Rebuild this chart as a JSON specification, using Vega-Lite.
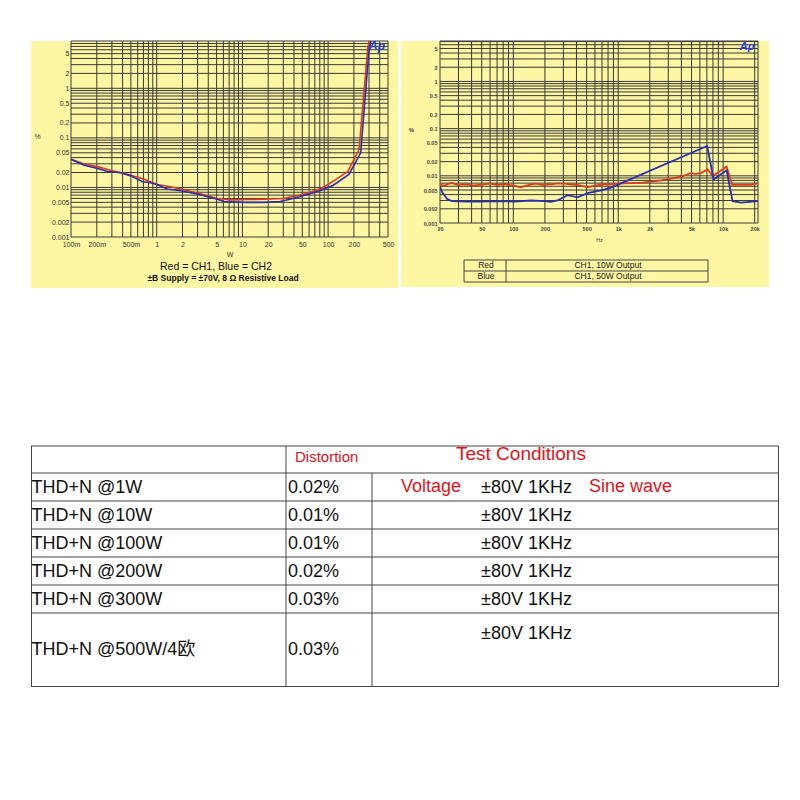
{
  "$schema": "https://vega.github.io/schema/vega-lite/v6.json",
  "background": "white",
  "padding": {"left": 30, "top": 40, "right": 0, "bottom": 0},
  "config": {"view": {"stroke": null}},
  "datasets": {
    "thd_vs_power": [
      {"ch": "CH1", "w": 0.1, "pct": 0.037}, {"ch": "CH1", "w": 0.149, "pct": 0.029}, {"ch": "CH1", "w": 0.204, "pct": 0.0263},
      {"ch": "CH1", "w": 0.292, "pct": 0.022}, {"ch": "CH1", "w": 0.381, "pct": 0.02}, {"ch": "CH1", "w": 0.5, "pct": 0.0176},
      {"ch": "CH1", "w": 0.711, "pct": 0.0147}, {"ch": "CH1", "w": 1.02, "pct": 0.0115}, {"ch": "CH1", "w": 1.45, "pct": 0.0103},
      {"ch": "CH1", "w": 2.08, "pct": 0.009}, {"ch": "CH1", "w": 2.97, "pct": 0.0077}, {"ch": "CH1", "w": 5.1, "pct": 0.006},
      {"ch": "CH1", "w": 7.27, "pct": 0.0056}, {"ch": "CH1", "w": 11.3, "pct": 0.0057}, {"ch": "CH1", "w": 17.7, "pct": 0.0058},
      {"ch": "CH1", "w": 30.2, "pct": 0.006}, {"ch": "CH1", "w": 43, "pct": 0.0068}, {"ch": "CH1", "w": 61, "pct": 0.0079},
      {"ch": "CH1", "w": 88, "pct": 0.01}, {"ch": "CH1", "w": 125, "pct": 0.0147}, {"ch": "CH1", "w": 170, "pct": 0.021},
      {"ch": "CH1", "w": 230, "pct": 0.058}, {"ch": "CH1", "w": 290, "pct": 6.5}, {"ch": "CH1", "w": 305, "pct": 9.5},
      {"ch": "CH2", "w": 0.1, "pct": 0.037}, {"ch": "CH2", "w": 0.143, "pct": 0.028}, {"ch": "CH2", "w": 0.204, "pct": 0.024},
      {"ch": "CH2", "w": 0.267, "pct": 0.0209}, {"ch": "CH2", "w": 0.38, "pct": 0.0198}, {"ch": "CH2", "w": 0.5, "pct": 0.0171},
      {"ch": "CH2", "w": 0.68, "pct": 0.013}, {"ch": "CH2", "w": 0.85, "pct": 0.0124}, {"ch": "CH2", "w": 1.0, "pct": 0.0115},
      {"ch": "CH2", "w": 1.33, "pct": 0.0093}, {"ch": "CH2", "w": 1.9, "pct": 0.0086}, {"ch": "CH2", "w": 2.97, "pct": 0.0074},
      {"ch": "CH2", "w": 5.1, "pct": 0.0058}, {"ch": "CH2", "w": 6.1, "pct": 0.0052}, {"ch": "CH2", "w": 10.4, "pct": 0.005},
      {"ch": "CH2", "w": 17.7, "pct": 0.005}, {"ch": "CH2", "w": 27.6, "pct": 0.0052}, {"ch": "CH2", "w": 39, "pct": 0.006},
      {"ch": "CH2", "w": 56, "pct": 0.0071}, {"ch": "CH2", "w": 80, "pct": 0.0086}, {"ch": "CH2", "w": 115, "pct": 0.0111},
      {"ch": "CH2", "w": 175, "pct": 0.0183}, {"ch": "CH2", "w": 240, "pct": 0.05}, {"ch": "CH2", "w": 300, "pct": 5.9},
      {"ch": "CH2", "w": 318, "pct": 9.5}
    ],
    "thd_vs_freq": [
      {"out": "10W", "hz": 20, "pct": 0.0068}, {"out": "10W", "hz": 21.5, "pct": 0.0061}, {"out": "10W", "hz": 23.5, "pct": 0.0066},
      {"out": "10W", "hz": 25.5, "pct": 0.0071}, {"out": "10W", "hz": 29.5, "pct": 0.0064}, {"out": "10W", "hz": 35, "pct": 0.0066},
      {"out": "10W", "hz": 42, "pct": 0.0063}, {"out": "10W", "hz": 50, "pct": 0.0065}, {"out": "10W", "hz": 60, "pct": 0.0068},
      {"out": "10W", "hz": 70, "pct": 0.0064}, {"out": "10W", "hz": 82, "pct": 0.0067}, {"out": "10W", "hz": 100, "pct": 0.0062},
      {"out": "10W", "hz": 118, "pct": 0.0057}, {"out": "10W", "hz": 135, "pct": 0.0063}, {"out": "10W", "hz": 160, "pct": 0.0068},
      {"out": "10W", "hz": 190, "pct": 0.0064}, {"out": "10W", "hz": 225, "pct": 0.0066}, {"out": "10W", "hz": 260, "pct": 0.0068},
      {"out": "10W", "hz": 306, "pct": 0.0068}, {"out": "10W", "hz": 350, "pct": 0.0066}, {"out": "10W", "hz": 410, "pct": 0.0064},
      {"out": "10W", "hz": 510, "pct": 0.0057}, {"out": "10W", "hz": 600, "pct": 0.0062}, {"out": "10W", "hz": 700, "pct": 0.0066},
      {"out": "10W", "hz": 850, "pct": 0.0066}, {"out": "10W", "hz": 1000, "pct": 0.0068}, {"out": "10W", "hz": 1300, "pct": 0.007},
      {"out": "10W", "hz": 1700, "pct": 0.0072}, {"out": "10W", "hz": 2050, "pct": 0.0075}, {"out": "10W", "hz": 2600, "pct": 0.008},
      {"out": "10W", "hz": 3300, "pct": 0.0088}, {"out": "10W", "hz": 4100, "pct": 0.0098}, {"out": "10W", "hz": 4900, "pct": 0.0114},
      {"out": "10W", "hz": 5500, "pct": 0.011}, {"out": "10W", "hz": 6150, "pct": 0.0114}, {"out": "10W", "hz": 7100, "pct": 0.0137},
      {"out": "10W", "hz": 7970, "pct": 0.0099}, {"out": "10W", "hz": 10800, "pct": 0.0156}, {"out": "10W", "hz": 12200, "pct": 0.0064},
      {"out": "10W", "hz": 15000, "pct": 0.0064}, {"out": "10W", "hz": 18300, "pct": 0.0064}, {"out": "10W", "hz": 21300, "pct": 0.0069},
      {"out": "50W", "hz": 20, "pct": 0.0058}, {"out": "50W", "hz": 21, "pct": 0.0045}, {"out": "50W", "hz": 23.5, "pct": 0.0032},
      {"out": "50W", "hz": 26, "pct": 0.0029}, {"out": "50W", "hz": 35, "pct": 0.00283}, {"out": "50W", "hz": 50, "pct": 0.00283},
      {"out": "50W", "hz": 70, "pct": 0.0029}, {"out": "50W", "hz": 101, "pct": 0.00285}, {"out": "50W", "hz": 148, "pct": 0.003},
      {"out": "50W", "hz": 196, "pct": 0.0029}, {"out": "50W", "hz": 227, "pct": 0.0028}, {"out": "50W", "hz": 264, "pct": 0.003},
      {"out": "50W", "hz": 329, "pct": 0.0039}, {"out": "50W", "hz": 410, "pct": 0.0035}, {"out": "50W", "hz": 510, "pct": 0.0043},
      {"out": "50W", "hz": 685, "pct": 0.0049}, {"out": "50W", "hz": 856, "pct": 0.0056}, {"out": "50W", "hz": 7050, "pct": 0.0428},
      {"out": "50W", "hz": 8120, "pct": 0.0084}, {"out": "50W", "hz": 10800, "pct": 0.0131}, {"out": "50W", "hz": 12300, "pct": 0.0029},
      {"out": "50W", "hz": 14900, "pct": 0.0027}, {"out": "50W", "hz": 18000, "pct": 0.0028}, {"out": "50W", "hz": 21500, "pct": 0.0029}
    ],
    "panel1": [{"x0": 0.0341, "x1": 654, "y0": 9, "y1": 0.0000936}],
    "panel2": [{"x0": 8.5, "x1": 27372, "y0": 7.2, "y1": 0.000044}],
    "notes1": [{"label": "Red = CH1,  Blue  = CH2", "x": 4.92, "y": 0.000248}],
    "notes1b": [{"label": "±B Supply = ±70V,  8 Ω Resistive Load", "x": 5.94, "y": 0.000149}],
    "logo1": [{"label": "Ap", "x": 372, "y": 7.13}],
    "logo2": [{"label": "Ap", "x": 16892, "y": 5.37}],
    "key2": [
      {"trace": "Red", "desc": "CH1, 10W Output", "xa": 54.9, "xb": 799, "y": 0.0001257},
      {"trace": "Blue", "desc": "CH1, 50W Output", "xa": 54.9, "xb": 799, "y": 0.0000735}
    ],
    "keybox2": [{"x0": 33.9, "x1": 7174, "xm": 85.2, "y0": 0.0001644, "y1": 0.0000562, "ym": 0.0000961}],
    "grid1x": [{"v":0.1},{"v":0.2},{"v":0.3},{"v":0.4},{"v":0.5},{"v":0.6},{"v":0.7},{"v":0.8},{"v":0.9},{"v":1},{"v":2},{"v":3},{"v":4},{"v":5},{"v":6},{"v":7},{"v":8},{"v":9},{"v":10},{"v":20},{"v":30},{"v":40},{"v":50},{"v":60},{"v":70},{"v":80},{"v":90},{"v":100},{"v":200},{"v":300},{"v":400},{"v":500}],
    "grid1y": [{"v":0.001},{"v":0.002},{"v":0.003},{"v":0.004},{"v":0.005},{"v":0.006},{"v":0.007},{"v":0.008},{"v":0.009},{"v":0.01},{"v":0.02},{"v":0.03},{"v":0.04},{"v":0.05},{"v":0.06},{"v":0.07},{"v":0.08},{"v":0.09},{"v":0.1},{"v":0.2},{"v":0.3},{"v":0.4},{"v":0.5},{"v":0.6},{"v":0.7},{"v":0.8},{"v":0.9},{"v":1},{"v":2},{"v":3},{"v":4},{"v":5},{"v":6},{"v":7},{"v":8},{"v":9}],
    "grid2x": [{"v":20},{"v":30},{"v":40},{"v":50},{"v":60},{"v":70},{"v":80},{"v":90},{"v":100},{"v":200},{"v":300},{"v":400},{"v":500},{"v":600},{"v":700},{"v":800},{"v":900},{"v":1000},{"v":2000},{"v":3000},{"v":4000},{"v":5000},{"v":6000},{"v":7000},{"v":8000},{"v":9000},{"v":10000},{"v":20000},{"v":21500}],
    "grid2y": [{"v":0.001},{"v":0.002},{"v":0.003},{"v":0.004},{"v":0.005},{"v":0.006},{"v":0.007},{"v":0.008},{"v":0.009},{"v":0.01},{"v":0.02},{"v":0.03},{"v":0.04},{"v":0.05},{"v":0.06},{"v":0.07},{"v":0.08},{"v":0.09},{"v":0.1},{"v":0.2},{"v":0.3},{"v":0.4},{"v":0.5},{"v":0.6},{"v":0.7},{"v":0.8},{"v":0.9},{"v":1},{"v":2},{"v":3},{"v":4},{"v":5},{"v":6},{"v":7},{"v":7.2}],
    "tbl_h": [{"e":0,"c0":0,"c1":3},{"e":1,"c0":0,"c1":3},{"e":2,"c0":0,"c1":3},{"e":3,"c0":0,"c1":3},{"e":4,"c0":0,"c1":3},{"e":5,"c0":0,"c1":3},{"e":6,"c0":0,"c1":3},{"e":7,"c0":0,"c1":3}],
    "tbl_v": [{"c":0,"e0":0,"e1":7},{"c":1,"e0":0,"e1":7},{"c":2,"e0":1,"e1":7},{"c":3,"e0":0,"e1":7}],
    "tbl_cells": [
      {"r":0,"c":2,"role":"head","text":"Distortion"},
      {"r":0,"c":4,"role":"title","text":"Test Conditions"},
      {"r":1,"c":3,"role":"note","text":"Voltage"},
      {"r":1,"c":6,"role":"note","text":"Sine wave"},
      {"r":1,"c":0,"role":"item","text":"THD+N @1W"},{"r":1,"c":1,"role":"item","text":"0.02%"},{"r":1,"c":5,"role":"cond","text":"±80V 1KHz"},
      {"r":2,"c":0,"role":"item","text":"THD+N @10W"},{"r":2,"c":1,"role":"item","text":"0.01%"},{"r":2,"c":5,"role":"cond","text":"±80V 1KHz"},
      {"r":3,"c":0,"role":"item","text":"THD+N @100W"},{"r":3,"c":1,"role":"item","text":"0.01%"},{"r":3,"c":5,"role":"cond","text":"±80V 1KHz"},
      {"r":4,"c":0,"role":"item","text":"THD+N @200W"},{"r":4,"c":1,"role":"item","text":"0.02%"},{"r":4,"c":5,"role":"cond","text":"±80V 1KHz"},
      {"r":5,"c":0,"role":"item","text":"THD+N @300W"},{"r":5,"c":1,"role":"item","text":"0.03%"},{"r":5,"c":5,"role":"cond","text":"±80V 1KHz"},
      {"r":6,"c":0,"role":"item","text":"THD+N @500W/4欧"},{"r":6,"c":1,"role":"item","text":"0.03%"},{"r":6,"c":5,"role":"cond","text":"±80V 1KHz"}
    ]
  },
  "columns": 1,
  "align": "none",
  "spacing": 157,
  "concat": [
    {
      "spacing": 3,
      "hconcat": [
        {
          "width": 317,
          "height": 196,
          "encoding": {
            "x": {"type": "quantitative", "scale": {"type": "log", "domain": [0.1, 500], "nice": false},
              "axis": {"values": [0.1, 0.2, 0.5, 1, 2, 5, 10, 20, 50, 100, 200, 500], "labelExpr": "datum.value < 1 ? round(datum.value*1000) + 'm' : '' + datum.value",
                "grid": false, "ticks": false, "domain": false, "labelFont": "Liberation Sans", "labelFontSize": 7, "labelColor": "#333", "labelPadding": 3, "labelFlush": false, "labelOverlap": false,
                "title": "W", "titleFont": "Liberation Sans", "titleFontSize": 7, "titleFontWeight": "normal", "titleColor": "#333", "titleY": 17, "titleBaseline": "middle", "zindex": 1}},
            "y": {"type": "quantitative", "scale": {"type": "log", "domain": [0.001, 9], "nice": false},
              "axis": {"values": [0.001, 0.002, 0.005, 0.01, 0.02, 0.05, 0.1, 0.2, 0.5, 1, 2, 5], "labelExpr": "'' + datum.value",
                "grid": false, "ticks": false, "domain": false, "labelFont": "Liberation Sans", "labelFontSize": 7, "labelColor": "#333", "labelPadding": 2, "labelFlush": false, "labelOverlap": false,
                "title": "%", "titleAngle": 0, "titleX": -34, "titleY": 95, "titleAlign": "center", "titleBaseline": "middle", "titleFont": "Liberation Sans", "titleFontSize": 7, "titleFontWeight": "normal", "titleColor": "#333", "zindex": 1}}
          },
          "layer": [
            {
              "data": {"name": "panel1"},
              "mark": {"type": "rect", "fill": "#fdf6a3"},
              "encoding": {"x": {"field": "x0"}, "x2": {"field": "x1"}, "y": {"field": "y0"}, "y2": {"field": "y1"}}
            },
            {
              "data": {"name": "grid1x"},
              "mark": {"type": "rule", "color": "#3a3a3a", "strokeWidth": 1},
              "encoding": {"x": {"field": "v"}}
            },
            {
              "data": {"name": "grid1y"},
              "mark": {"type": "rule", "color": "#3a3a3a", "strokeWidth": 1},
              "encoding": {"y": {"field": "v"}}
            },
            {
              "data": {"name": "thd_vs_power"},
              "mark": {"type": "line", "clip": true, "strokeWidth": 1.6},
              "encoding": {
                "x": {"field": "w"},
                "y": {"field": "pct"},
                "color": {"field": "ch", "type": "nominal", "scale": {"domain": ["CH1", "CH2"], "range": ["#dc3b1c", "#2a2fb0"]}, "legend": null}
              }
            },
            {
              "data": {"name": "logo1"},
              "mark": {"type": "text", "font": "Liberation Sans", "fontSize": 12, "fontWeight": "bold", "fontStyle": "italic", "color": "#1f3fe0", "align": "center", "baseline": "middle"},
              "encoding": {"x": {"field": "x"}, "y": {"field": "y"}, "text": {"field": "label"}}
            },
            {
              "data": {"name": "notes1"},
              "mark": {"type": "text", "font": "Liberation Sans", "fontSize": 10.5, "color": "#111", "align": "center", "baseline": "middle"},
              "encoding": {"x": {"field": "x"}, "y": {"field": "y"}, "text": {"field": "label"}}
            },
            {
              "data": {"name": "notes1b"},
              "mark": {"type": "text", "font": "Liberation Sans", "fontSize": 8.5, "fontWeight": "bold", "color": "#111", "align": "center", "baseline": "middle"},
              "encoding": {"x": {"field": "x"}, "y": {"field": "y"}, "text": {"field": "label"}}
            }
          ]
        },
        {
          "width": 318,
          "height": 182,
          "encoding": {
            "x": {"type": "quantitative", "scale": {"type": "log", "domain": [20, 21500], "nice": false},
              "axis": {"values": [20, 50, 100, 200, 500, 1000, 2000, 5000, 10000, 20000], "labelExpr": "datum.value >= 1000 ? (datum.value/1000) + 'k' : '' + datum.value",
                "grid": false, "ticks": false, "domain": false, "labelFont": "Liberation Sans", "labelFontSize": 5.5, "labelFontWeight": "bold", "labelColor": "#444", "labelPadding": 3, "labelFlush": false, "labelOverlap": false,
                "title": "Hz", "titleFont": "Liberation Sans", "titleFontSize": 5.5, "titleFontWeight": "normal", "titleColor": "#444", "titleY": 16, "titleBaseline": "middle", "zindex": 1}},
            "y": {"type": "quantitative", "scale": {"type": "log", "domain": [0.001, 7.2], "nice": false},
              "axis": {"values": [0.001, 0.002, 0.005, 0.01, 0.02, 0.05, 0.1, 0.2, 0.5, 1, 2, 5], "labelExpr": "'' + datum.value",
                "grid": false, "ticks": false, "domain": false, "labelFont": "Liberation Sans", "labelFontSize": 5.5, "labelFontWeight": "bold", "labelColor": "#444", "labelPadding": 3, "labelFlush": false, "labelOverlap": false,
                "title": "%", "titleAngle": 0, "titleX": -29, "titleY": 88, "titleAlign": "center", "titleBaseline": "middle", "titleFont": "Liberation Sans", "titleFontSize": 6, "titleFontWeight": "bold", "titleColor": "#444", "zindex": 1}}
          },
          "layer": [
            {
              "data": {"name": "panel2"},
              "mark": {"type": "rect", "fill": "#fdf6a3"},
              "encoding": {"x": {"field": "x0"}, "x2": {"field": "x1"}, "y": {"field": "y0"}, "y2": {"field": "y1"}}
            },
            {
              "data": {"name": "grid2x"},
              "mark": {"type": "rule", "color": "#3a3a3a", "strokeWidth": 1},
              "encoding": {"x": {"field": "v"}}
            },
            {
              "data": {"name": "grid2y"},
              "mark": {"type": "rule", "color": "#3a3a3a", "strokeWidth": 1},
              "encoding": {"y": {"field": "v"}}
            },
            {
              "data": {"name": "thd_vs_freq"},
              "mark": {"type": "line", "clip": true, "strokeWidth": 1.8},
              "encoding": {
                "x": {"field": "hz"},
                "y": {"field": "pct"},
                "color": {"field": "out", "type": "nominal", "scale": {"domain": ["10W", "50W"], "range": ["#dc3b1c", "#2a2fb0"]}, "legend": null}
              }
            },
            {
              "data": {"name": "logo2"},
              "mark": {"type": "text", "font": "Liberation Sans", "fontSize": 11, "fontWeight": "bold", "fontStyle": "italic", "color": "#1f3fe0", "align": "center", "baseline": "middle"},
              "encoding": {"x": {"field": "x"}, "y": {"field": "y"}, "text": {"field": "label"}}
            },
            {
              "data": {"name": "keybox2"},
              "mark": {"type": "rect", "filled": false, "stroke": "#444", "strokeWidth": 1},
              "encoding": {"x": {"field": "x0"}, "x2": {"field": "x1"}, "y": {"field": "y0"}, "y2": {"field": "y1"}}
            },
            {
              "data": {"name": "keybox2"},
              "mark": {"type": "rule", "stroke": "#444", "strokeWidth": 1},
              "encoding": {"x": {"field": "xm"}, "y": {"field": "y0"}, "y2": {"field": "y1"}}
            },
            {
              "data": {"name": "keybox2"},
              "mark": {"type": "rule", "stroke": "#444", "strokeWidth": 1},
              "encoding": {"x": {"field": "x0"}, "x2": {"field": "x1"}, "y": {"field": "ym"}}
            },
            {
              "data": {"name": "key2"},
              "mark": {"type": "text", "font": "Liberation Sans", "fontSize": 8.5, "color": "#222", "align": "center", "baseline": "middle"},
              "encoding": {"x": {"field": "xa"}, "y": {"field": "y"}, "text": {"field": "trace"}}
            },
            {
              "data": {"name": "key2"},
              "mark": {"type": "text", "font": "Liberation Sans", "fontSize": 8.5, "color": "#222", "align": "center", "baseline": "middle"},
              "encoding": {"x": {"field": "xb"}, "y": {"field": "y"}, "text": {"field": "desc"}}
            }
          ]
        }
      ]
    },
    {
      "width": 708,
      "height": 242,
      "resolve": {"scale": {"x": "independent", "y": "independent"}},
      "layer": [
        {
          "data": {"name": "tbl_h"},
          "mark": {"type": "rule", "color": "#444", "strokeWidth": 1},
          "encoding": {
            "x": {"field": "c0", "type": "quantitative", "scale": {"domain": [0, 1, 2, 3], "range": [-40, 215, 301, 708], "zero": false, "nice": false}, "axis": null},
            "x2": {"field": "c1"},
            "y": {"field": "e", "type": "quantitative", "scale": {"domain": [0, 1, 6, 7], "range": [1, 28, 168, 241.5], "zero": false, "nice": false}, "axis": null}
          }
        },
        {
          "data": {"name": "tbl_v"},
          "mark": {"type": "rule", "color": "#444", "strokeWidth": 1},
          "encoding": {
            "x": {"field": "c", "type": "quantitative", "scale": {"domain": [0, 1, 2, 3], "range": [-39.5, 215, 301, 707.5], "zero": false, "nice": false}, "axis": null},
            "y": {"field": "e0", "type": "quantitative", "scale": {"domain": [0, 1, 6, 7], "range": [1, 28, 168, 241.5], "zero": false, "nice": false}, "axis": null},
            "y2": {"field": "e1"}
          }
        },
        {
          "data": {"name": "tbl_cells"},
          "transform": [{"filter": "datum.role == 'item'"}],
          "mark": {"type": "text", "align": "left", "baseline": "middle", "font": "Liberation Sans, Noto Sans CJK SC", "fontSize": 18, "color": "#111"},
          "encoding": {
            "x": {"field": "c", "type": "quantitative", "scale": {"domain": [0, 1, 2, 3, 4, 5, 6], "range": [-39.5, 217, 224, 330, 385, 410, 518], "zero": false, "nice": false}, "axis": null},
            "y": {"field": "r", "type": "quantitative", "scale": {"domain": [0, 1, 5, 6], "range": [11, 43, 155, 205], "zero": false, "nice": false}, "axis": null},
            "text": {"field": "text"}
          }
        },
        {
          "data": {"name": "tbl_cells"},
          "transform": [{"filter": "datum.role == 'cond'"}],
          "mark": {"type": "text", "align": "left", "baseline": "middle", "font": "Liberation Sans", "fontSize": 18, "color": "#111"},
          "encoding": {
            "x": {"field": "c", "type": "quantitative", "scale": {"domain": [0, 1, 2, 3, 4, 5, 6], "range": [-39.5, 217, 224, 330, 385, 410, 518], "zero": false, "nice": false}, "axis": null},
            "y": {"field": "r", "type": "quantitative", "scale": {"domain": [0, 1, 5, 6], "range": [11, 43, 155, 189], "zero": false, "nice": false}, "axis": null},
            "text": {"field": "text"}
          }
        },
        {
          "data": {"name": "tbl_cells"},
          "transform": [{"filter": "datum.role == 'head'"}],
          "mark": {"type": "text", "align": "left", "baseline": "middle", "font": "Liberation Sans", "fontSize": 15, "color": "#e3131b"},
          "encoding": {
            "x": {"field": "c", "type": "quantitative", "scale": {"domain": [0, 1, 2, 3, 4, 5, 6], "range": [-39.5, 217, 224, 330, 385, 410, 518], "zero": false, "nice": false}, "axis": null},
            "y": {"field": "r", "type": "quantitative", "scale": {"domain": [0, 1, 5, 6], "range": [12, 43, 155, 205], "zero": false, "nice": false}, "axis": null},
            "text": {"field": "text"}
          }
        },
        {
          "data": {"name": "tbl_cells"},
          "transform": [{"filter": "datum.role == 'title'"}],
          "mark": {"type": "text", "align": "left", "baseline": "middle", "font": "Liberation Sans", "fontSize": 19, "color": "#e3131b"},
          "encoding": {
            "x": {"field": "c", "type": "quantitative", "scale": {"domain": [0, 1, 2, 3, 4, 5, 6], "range": [-39.5, 217, 224, 330, 385, 410, 518], "zero": false, "nice": false}, "axis": null},
            "y": {"field": "r", "type": "quantitative", "scale": {"domain": [0, 1, 5, 6], "range": [9, 43, 155, 205], "zero": false, "nice": false}, "axis": null},
            "text": {"field": "text"}
          }
        },
        {
          "data": {"name": "tbl_cells"},
          "transform": [{"filter": "datum.role == 'note'"}],
          "mark": {"type": "text", "align": "left", "baseline": "middle", "font": "Liberation Sans", "fontSize": 18, "color": "#e3131b"},
          "encoding": {
            "x": {"field": "c", "type": "quantitative", "scale": {"domain": [0, 1, 2, 3, 4, 5, 6], "range": [-39.5, 217, 224, 330, 385, 410, 518], "zero": false, "nice": false}, "axis": null},
            "y": {"field": "r", "type": "quantitative", "scale": {"domain": [0, 1, 5, 6], "range": [11, 42, 155, 205], "zero": false, "nice": false}, "axis": null},
            "text": {"field": "text"}
          }
        }
      ]
    }
  ]
}
